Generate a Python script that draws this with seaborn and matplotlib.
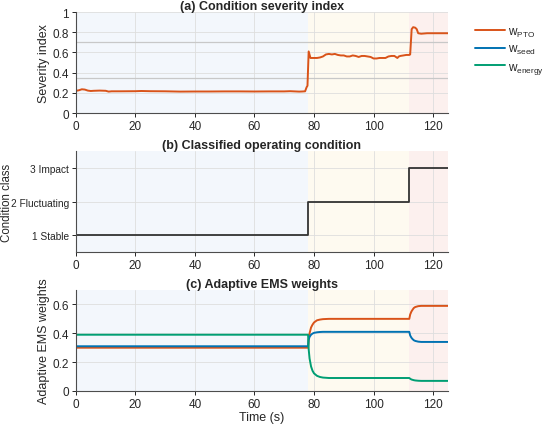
import numpy as np
import pandas as pd
import matplotlib
matplotlib.use("Agg")
import matplotlib.pyplot as plt
import seaborn as sns
from matplotlib.ticker import FuncFormatter

# --- data ---
sev_t = [0, 1, 2, 3, 4, 5, 6, 8, 10, 11, 12, 15, 20, 22, 25, 30, 35, 40, 45, 50, 55, 60,
         65, 70, 72, 75, 76, 77, 77.5, 77.8, 78.2, 78.8, 79.5, 81, 82, 83, 84, 85, 86, 87,
         88, 89, 90, 91, 92, 93, 94, 95, 96, 97, 98, 99, 100, 101, 102, 103, 104, 105, 106,
         107, 108, 108.5, 109, 110, 111, 112, 112.3, 112.8, 113.3, 114, 114.5, 115, 116,
         118, 120, 125]
sev_v = [0.22, 0.225, 0.235, 0.232, 0.222, 0.218, 0.22, 0.222, 0.22, 0.212, 0.215, 0.215,
         0.216, 0.218, 0.216, 0.215, 0.212, 0.213, 0.213, 0.214, 0.214, 0.213, 0.214, 0.214,
         0.216, 0.212, 0.213, 0.215, 0.255, 0.27, 0.61, 0.545, 0.545, 0.545, 0.55, 0.56,
         0.58, 0.585, 0.58, 0.585, 0.575, 0.57, 0.57, 0.56, 0.56, 0.57, 0.565, 0.555, 0.565,
         0.565, 0.56, 0.555, 0.54, 0.54, 0.545, 0.545, 0.545, 0.56, 0.565, 0.565, 0.545,
         0.56, 0.565, 0.57, 0.575, 0.575, 0.58, 0.83, 0.85, 0.845, 0.83, 0.79, 0.785, 0.79,
         0.79, 0.79]
thresholds = [0.35, 0.7]

cond_t = [0, 78, 112, 125]
cond_v = [1, 2, 3, 3]
cond_labels = ["1 Stable", "2 Fluctuating", "3 Impact"]

w_t = [0, 78, 78.2, 78.5, 79, 79.5, 80, 81, 82, 83, 85, 90, 112, 112.3, 112.7, 113,
       113.5, 114, 115, 116, 118, 125]
w_pto = [0.30, 0.30, 0.355, 0.40, 0.44, 0.46, 0.475, 0.49, 0.495, 0.498, 0.50, 0.50, 0.50,
         0.53, 0.55, 0.56, 0.575, 0.582, 0.588, 0.59, 0.59, 0.59]
w_seed = [0.31, 0.31, 0.355, 0.375, 0.39, 0.398, 0.403, 0.407, 0.409, 0.41, 0.41, 0.41,
          0.41, 0.385, 0.37, 0.362, 0.352, 0.347, 0.342, 0.34, 0.34, 0.34]
w_energy = [0.39, 0.39, 0.29, 0.225, 0.17, 0.14, 0.122, 0.105, 0.097, 0.093, 0.09, 0.09,
            0.09, 0.085, 0.08, 0.078, 0.075, 0.073, 0.071, 0.07, 0.07, 0.07]

regions = [(0, 78, "#F3F7FC"), (78, 112, "#FEFAF0"), (112, 125, "#FCF0EE")]

c_pto, c_seed, c_energy = "#D95319", "#0072B2", "#009E73"
txt = "#262626"

sns.set_style("ticks")
plt.rcParams["font.family"] = ["Liberation Sans", "DejaVu Sans"]
plt.rcParams.update({"text.color": txt, "axes.labelcolor": txt, "xtick.color": txt,
                     "ytick.color": txt, "axes.edgecolor": "#4d4d4d",
                     "xtick.labelsize": 8.5, "ytick.labelsize": 8.5,
                     "mathtext.default": "regular"})

fig = plt.figure(figsize=(5.5, 4.27), dpi=100)
axa = fig.add_axes([0.138, 0.733, 0.6765, 0.2365])
axb = fig.add_axes([0.138, 0.4075, 0.6765, 0.2365])
axc = fig.add_axes([0.138, 0.082, 0.6765, 0.2365])

fmt = FuncFormatter(lambda v, p: f"{v:g}")

for ax in (axa, axb, axc):
    for x0, x1, col in regions:
        ax.axvspan(x0, x1, color=col, zorder=0, lw=0)
    ax.set_axisbelow(True)
    ax.grid(True, color="#dedede", lw=0.6)
    ax.set_xlim(0, 125)
    ax.set_xticks(range(0, 121, 20))
    ax.tick_params(length=3, width=0.7, pad=2)
    sns.despine(ax=ax)

# (a)
for th in thresholds:
    axa.axhline(th, color="#c8c8c8", lw=0.9, zorder=1)
sns.lineplot(x=sev_t, y=sev_v, ax=axa, color=c_pto, lw=1.4, estimator=None)
axa.set_ylim(0, 1)
axa.set_yticks(np.arange(0, 1.01, 0.2))
axa.yaxis.set_major_formatter(fmt)
axa.set_ylabel("Severity index", fontsize=9, labelpad=2)
axa.set_title("(a) Condition severity index", fontsize=9, fontweight="bold", pad=2)

# (b)
sns.lineplot(x=cond_t, y=cond_v, ax=axb, color="#333333", lw=1.3, estimator=None,
             drawstyle="steps-post")
axb.set_ylim(0.5, 3.5)
axb.set_yticks([1, 2, 3])
axb.set_yticklabels(cond_labels, fontsize=7.3)
axb.set_ylabel("Condition class", fontsize=8.3)
axb.yaxis.set_label_coords(-0.168, 0.5)
axb.set_title("(b) Classified operating condition", fontsize=9, fontweight="bold", pad=2)

# (c)
wdf = pd.DataFrame({
    "t": w_t * 3,
    "w": w_pto + w_seed + w_energy,
    "name": ["$w_{PTO}$"] * len(w_t) + ["$w_{seed}$"] * len(w_t) + ["$w_{energy}$"] * len(w_t),
})
sns.lineplot(data=wdf, x="t", y="w", hue="name", ax=axc, lw=1.4, estimator=None,
             palette=[c_pto, c_seed, c_energy])
axc.set_ylim(0, 0.7)
axc.set_yticks([0, 0.2, 0.4, 0.6])
axc.yaxis.set_major_formatter(fmt)
axc.set_ylabel("Adaptive EMS weights", fontsize=9, labelpad=2)
axc.set_xlabel("Time (s)", fontsize=9, labelpad=1)
axc.set_title("(c) Adaptive EMS weights", fontsize=9, fontweight="bold", pad=2)
handles, labels = axc.get_legend_handles_labels()
axc.get_legend().remove()

for ax in (axa, axb):
    ax.set_xlabel("")

fig.legend(handles, labels, loc="upper left", bbox_to_anchor=(0.845, 0.963), frameon=False,
           fontsize=8.5, handlelength=2.5, labelspacing=0.38, handletextpad=0.3)

fig.savefig("out.png", dpi=100)
